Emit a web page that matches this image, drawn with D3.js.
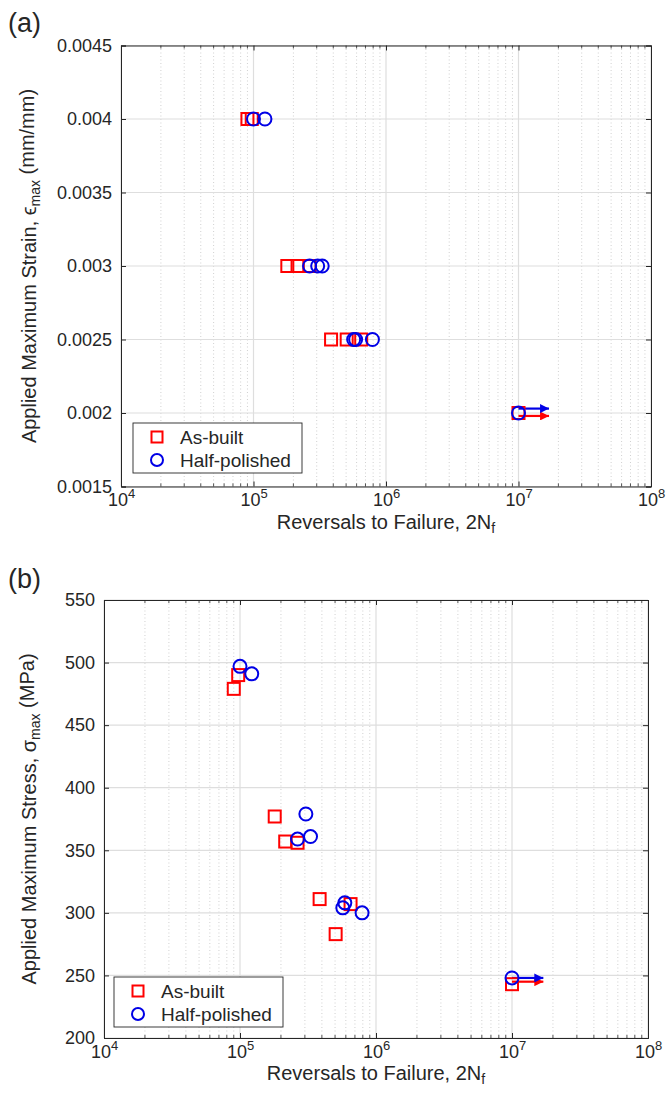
<!DOCTYPE html>
<html>
<head>
<meta charset="utf-8">
<script src="https://cdn.jsdelivr.net/npm/d3@7"></script>
<style>
  body { margin: 0; background: #fff; }
  text { font-family: "Liberation Sans", Arial, sans-serif; fill: #262626; }
</style>
</head>
<body>
<svg id="fig" width="667" height="1106"></svg>
<script>
// cycles (reversals) to failure, shared by both panels
let asBuiltLife = [9.0e4, 9.7e4, 1.8e5, 2.15e5, 2.65e5, 3.85e5, 5.05e5, 6.5e5, 1e7];
let halfPolishedLife = [1.0e5, 1.22e5, 2.65e5, 3.05e5, 3.3e5, 5.7e5, 5.9e5, 7.9e5, 1e7];

// panel (a) strain
let asBuiltStrain = [0.004, 0.004, 0.003, 0.003, 0.003, 0.0025, 0.0025, 0.0025, 0.002];
let halfPolishedStrain = [0.004, 0.004, 0.003, 0.003, 0.003, 0.0025, 0.0025, 0.0025, 0.002];
let strainTicks = [0.0015, 0.002, 0.0025, 0.003, 0.0035, 0.004, 0.0045];

// panel (b) stress
let asBuiltStress = [479, 490, 377, 357, 356, 311, 283, 307, 243];
let halfPolishedStress = [497, 491, 359, 379, 361, 304, 308, 300, 248];
let stressTicks = [200, 250, 300, 350, 400, 450, 500, 550];

// run-out arrows [start life, end life, level]
let runoutStrain = { asBuilt: [1e7, 1.7e7, 0.00198], halfPolished: [1e7, 1.7e7, 0.00203] };
let runoutStress = { asBuilt: [1e7, 1.7e7, 245], halfPolished: [1e7, 1.7e7, 248] };

let lifeTicks = [1e4, 1e5, 1e6, 1e7, 1e8];
let legendLabels = ["As-built", "Half-polished"];

const RED = "#ff0000", BLUE = "#0000e6", AX = "#262626";

let svg = d3.select("#fig");
svg.append("rect").attr("width", 667).attr("height", 1106).attr("fill", "#fff");

let defs = svg.append("defs");
[["arrRed", RED], ["arrBlue", BLUE]].forEach(function(a) {
    defs.append("marker").attr("id", a[0])
        .attr("viewBox", "0 0 10 10").attr("refX", 10).attr("refY", 5)
        .attr("markerWidth", 10).attr("markerHeight", 9)
        .attr("markerUnits", "userSpaceOnUse").attr("orient", "auto")
        .append("path").attr("d", "M0,0 L10,5 L0,10 Z").attr("fill", a[1]);
});

function panel(cfg) {
    let x = d3.scaleLog().domain([1e4, 1e8]).range([cfg.left, cfg.right]);
    let y = d3.scaleLinear().domain(cfg.yDomain).range([cfg.bottom, cfg.top]);
    let g = svg.append("g");

    // minor grid (dotted) on the log axis
    let minors = [];
    for (let d = 4; d < 8; d++) for (let k = 2; k <= 9; k++) minors.push(k * Math.pow(10, d));
    g.selectAll(".minor").data(minors).enter().append("line")
        .attr("x1", d => x(d)).attr("x2", d => x(d))
        .attr("y1", cfg.top).attr("y2", cfg.bottom)
        .attr("stroke", "#d0d0d0").attr("stroke-width", 1).attr("stroke-dasharray", "1,2.5");

    // major grid
    g.selectAll(".vgrid").data(lifeTicks).enter().append("line")
        .attr("x1", d => x(d)).attr("x2", d => x(d))
        .attr("y1", cfg.top).attr("y2", cfg.bottom)
        .attr("stroke", "#dedede").attr("stroke-width", 1.2);
    g.selectAll(".hgrid").data(cfg.yTicks).enter().append("line")
        .attr("x1", cfg.left).attr("x2", cfg.right)
        .attr("y1", d => y(d)).attr("y2", d => y(d))
        .attr("stroke", "#dedede").attr("stroke-width", 1.2);

    // axes (ticks point inward like MATLAB)
    let xb = g.append("g").attr("transform", "translate(0," + cfg.bottom + ")")
        .call(d3.axisBottom(x).tickValues(lifeTicks).tickSize(-5).tickPadding(7)
            .tickFormat(d => "10"));
    xb.selectAll("text").attr("font-size", 18).attr("dy", "0.71em")
        .append("tspan").attr("dy", "-0.6em").attr("font-size", 13)
        .text(d => Math.round(Math.log10(d)));
    g.append("g").attr("transform", "translate(0," + cfg.top + ")")
        .call(d3.axisTop(x).tickValues(lifeTicks).tickSize(-5).tickFormat(""));
    let yl = g.append("g").attr("transform", "translate(" + cfg.left + ",0)")
        .call(d3.axisLeft(y).tickValues(cfg.yTicks).tickSize(-5).tickPadding(9)
            .tickFormat(d => String(d)));
    yl.selectAll("text").attr("font-size", 18);
    g.append("g").attr("transform", "translate(" + cfg.right + ",0)")
        .call(d3.axisRight(y).tickValues(cfg.yTicks).tickSize(-5).tickFormat(""));
    g.selectAll(".domain").attr("stroke", AX).attr("stroke-width", 1);
    g.selectAll(".tick line").attr("stroke", AX);

    // minor ticks on the log axes
    [[cfg.bottom, -3], [cfg.top, 3]].forEach(function(t) {
        g.selectAll(null).data(minors).enter().append("line")
            .attr("x1", d => x(d)).attr("x2", d => x(d))
            .attr("y1", t[0]).attr("y2", t[0] + t[1])
            .attr("stroke", AX).attr("stroke-width", 0.8);
    });

    // run-out arrows
    [[cfg.runout.asBuilt, "arrRed", RED], [cfg.runout.halfPolished, "arrBlue", BLUE]].forEach(function(r) {
        g.append("line")
            .attr("x1", x(r[0][0])).attr("x2", x(r[0][1]))
            .attr("y1", y(r[0][2])).attr("y2", y(r[0][2]))
            .attr("stroke", r[2]).attr("stroke-width", 2.2)
            .attr("marker-end", "url(#" + r[1] + ")");
    });

    // markers
    let sq = 12;
    g.selectAll(".sq").data(d3.zip(asBuiltLife, cfg.asBuilt)).enter().append("rect")
        .attr("x", d => x(d[0]) - sq / 2).attr("y", d => y(d[1]) - sq / 2)
        .attr("width", sq).attr("height", sq)
        .attr("fill", "none").attr("stroke", RED).attr("stroke-width", 2);
    g.selectAll(".ci").data(d3.zip(halfPolishedLife, cfg.halfPolished)).enter().append("circle")
        .attr("cx", d => x(d[0])).attr("cy", d => y(d[1])).attr("r", 6.5)
        .attr("fill", "none").attr("stroke", BLUE).attr("stroke-width", 2);

    // legend
    let L = cfg.legend;
    let lg = g.append("g").attr("transform", "translate(" + L.x + "," + L.y + ")");
    lg.append("rect").attr("width", L.w).attr("height", L.h)
        .attr("fill", "#fff").attr("stroke", AX).attr("stroke-width", 0.9);
    lg.append("rect").attr("x", 24 - 5.5).attr("y", 14 - 5.5).attr("width", 11).attr("height", 11)
        .attr("fill", "none").attr("stroke", RED).attr("stroke-width", 2);
    lg.append("circle").attr("cx", 24).attr("cy", 37).attr("r", 6)
        .attr("fill", "none").attr("stroke", BLUE).attr("stroke-width", 2);
    lg.selectAll(".lt").data(legendLabels).enter().append("text")
        .attr("x", 47).attr("y", (d, i) => 14 + i * 23).attr("dy", "0.36em")
        .attr("font-size", 19).text(d => d);

    // axis labels
    let xl = g.append("text").attr("x", (cfg.left + cfg.right) / 2).attr("y", cfg.bottom + 42)
        .attr("text-anchor", "middle").attr("font-size", 20).text("Reversals to Failure, 2N");
    xl.append("tspan").attr("dy", "0.3em").attr("font-size", 14).text("f");

    let ylab = g.append("text")
        .attr("transform", "translate(" + cfg.yLabelX + "," + ((cfg.top + cfg.bottom) / 2) + ") rotate(-90)")
        .attr("text-anchor", "middle").attr("font-size", 20);
    ylab.append("tspan").text(cfg.yLabel[0]);
    ylab.append("tspan").attr("dy", "0.3em").attr("font-size", 14).text("max");
    ylab.append("tspan").attr("dy", "-0.3em").text(cfg.yLabel[1]);

    svg.append("text").attr("x", cfg.tagX).attr("y", cfg.tagY)
        .attr("font-size", 27).text(cfg.tag);
}

panel({
    left: 121, right: 651, top: 45.5, bottom: 486.5,
    yDomain: [0.0015, 0.0045], yTicks: strainTicks,
    asBuilt: asBuiltStrain, halfPolished: halfPolishedStrain, runout: runoutStrain,
    legend: { x: 133, y: 423, w: 169, h: 50 },
    yLabelX: 36, yLabel: ["Applied Maximum Strain, \u03F5", " (mm/mm)"],
    tag: "(a)", tagX: 8, tagY: 32
});

panel({
    left: 104, right: 648, top: 600, bottom: 1038,
    yDomain: [200, 550], yTicks: stressTicks,
    asBuilt: asBuiltStress, halfPolished: halfPolishedStress, runout: runoutStress,
    legend: { x: 114, y: 977, w: 169, h: 50 },
    yLabelX: 36, yLabel: ["Applied Maximum Stress, \u03C3", " (MPa)"],
    tag: "(b)", tagX: 8, tagY: 588
});
</script>
</body>
</html>
